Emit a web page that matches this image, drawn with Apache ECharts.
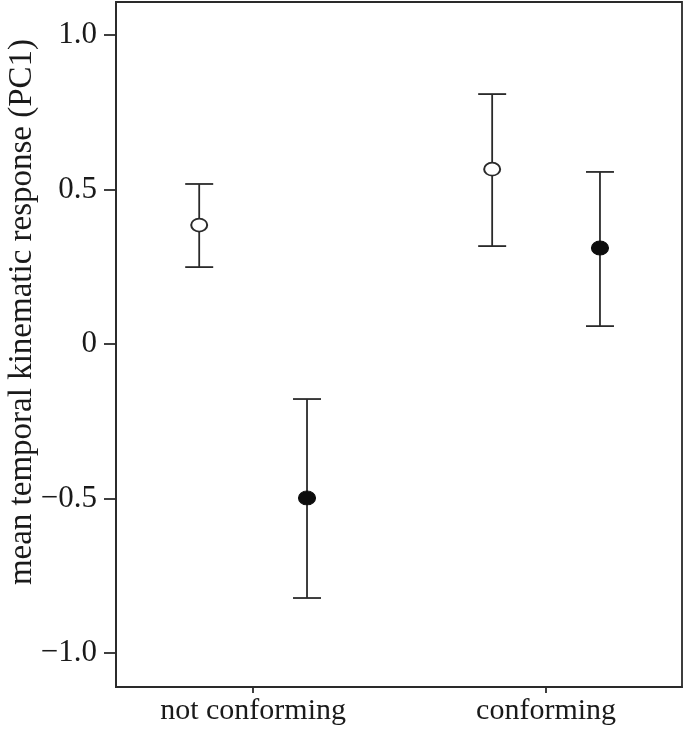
<!DOCTYPE html>
<html>
<head>
<meta charset="utf-8">
<script src="https://cdn.jsdelivr.net/npm/echarts@6/dist/echarts.min.js"></script>
<style>
html,body{margin:0;padding:0;background:#fff;}
#EchartBox{width:684px;height:732px;}
</style>
</head>
<body>
<div id="EchartBox"></div>
<script>
// categories and values
var categories = ['not conforming', 'conforming'];
var categoryPos = [1, 2];
var yTicks = [-1, -0.5, 0, 0.5, 1];

// open circles
var openMean = [0.385, 0.566];
var openLow = [0.249, 0.317];
var openHigh = [0.518, 0.809];

// filled circles
var filledMean = [-0.498, 0.311];
var filledLow = [-0.822, 0.058];
var filledHigh = [-0.178, 0.557];

var shift = 0.184;
var lineColor = '#2a2a2a';
var serif = '"Liberation Serif", "DejaVu Serif", serif';

function buildRows(mean, low, high, dx) {
	var rows = [];
	for (var i = 0; i < mean.length; i++) {
		rows.push([categoryPos[i] + dx, mean[i], low[i], high[i]]);
	}
	return rows;
}
var openRows = buildRows(openMean, openLow, openHigh, -shift);
var filledRows = buildRows(filledMean, filledLow, filledHigh, shift);

// error bar with caps
function errorBar(params, api) {
	var x = api.value(0);
	var top = api.coord([x, api.value(3)]);
	var bottom = api.coord([x, api.value(2)]);
	var half = 14;
	var style = {stroke: lineColor, lineWidth: 1.8};
	return {
		type: 'group',
		children: [
			{type: 'line', shape: {x1: top[0], y1: top[1], x2: bottom[0], y2: bottom[1]}, style: style},
			{type: 'line', shape: {x1: top[0] - half, y1: top[1], x2: top[0] + half, y2: top[1]}, style: style},
			{type: 'line', shape: {x1: bottom[0] - half, y1: bottom[1], x2: bottom[0] + half, y2: bottom[1]}, style: style}
		]
	};
}

var myChart = echarts.init(document.getElementById('EchartBox'));
var option = {
	backgroundColor: '#fff',
	animation: false,
	grid: {
		left: 116, right: 2, top: 2, bottom: 45,
		show: true, borderColor: lineColor, borderWidth: 1.8, backgroundColor: 'transparent'
	},
	xAxis: {
		type: 'value',
		min: 0.532,
		max: 2.464,
		splitLine: {show: false},
		axisLine: {show: true, onZero: false, lineStyle: {color: lineColor, width: 1.8}},
		axisTick: {show: true, length: 6, lineStyle: {color: lineColor, width: 1.8}, customValues: categoryPos},
		axisLabel: {
			customValues: categoryPos,
			margin: 9,
			color: '#1a1a1a',
			fontFamily: serif,
			fontSize: 30,
			formatter: function (v) {
				var i = categoryPos.indexOf(Math.round(v));
				return i >= 0 ? categories[i] : '';
			}
		}
	},
	yAxis: {
		type: 'value',
		min: -1.11,
		max: 1.107,
		splitLine: {show: false},
		axisLine: {show: true, onZero: false, lineStyle: {color: lineColor, width: 1.8}},
		axisTick: {show: true, length: 12, lineStyle: {color: lineColor, width: 1.8}, customValues: yTicks},
		axisLabel: {
			customValues: yTicks,
			margin: 19,
			color: '#1a1a1a',
			fontFamily: serif,
			fontSize: 31,
			formatter: function (v) {
				if (Math.abs(v) < 1e-9) return '0';
				var s = Math.abs(v).toFixed(1);
				return v < 0 ? '\u2212' + s : s;
			}
		}
	},
	graphic: [{
		type: 'text',
		x: 22,
		y: 312,
		rotation: Math.PI / 2,
		style: {
			text: 'mean temporal kinematic response (PC1)',
			fontFamily: serif,
			fontSize: 33,
			fill: '#1a1a1a',
			align: 'center',
			verticalAlign: 'middle'
		}
	}],
	series: [
		{type: 'custom', renderItem: errorBar, data: openRows, z: 2},
		{type: 'custom', renderItem: errorBar, data: filledRows, z: 2},
		{
			type: 'scatter', data: openRows, symbol: 'circle', symbolSize: [16, 13], z: 3,
			itemStyle: {color: '#fff', borderColor: lineColor, borderWidth: 1.8, opacity: 1}
		},
		{
			type: 'scatter', data: filledRows, symbol: 'circle', symbolSize: [17, 14], z: 3,
			itemStyle: {color: '#0d0d0d', borderColor: '#0d0d0d', borderWidth: 1, opacity: 1}
		}
	]
};
myChart.setOption(option);
</script>
</body>
</html>
